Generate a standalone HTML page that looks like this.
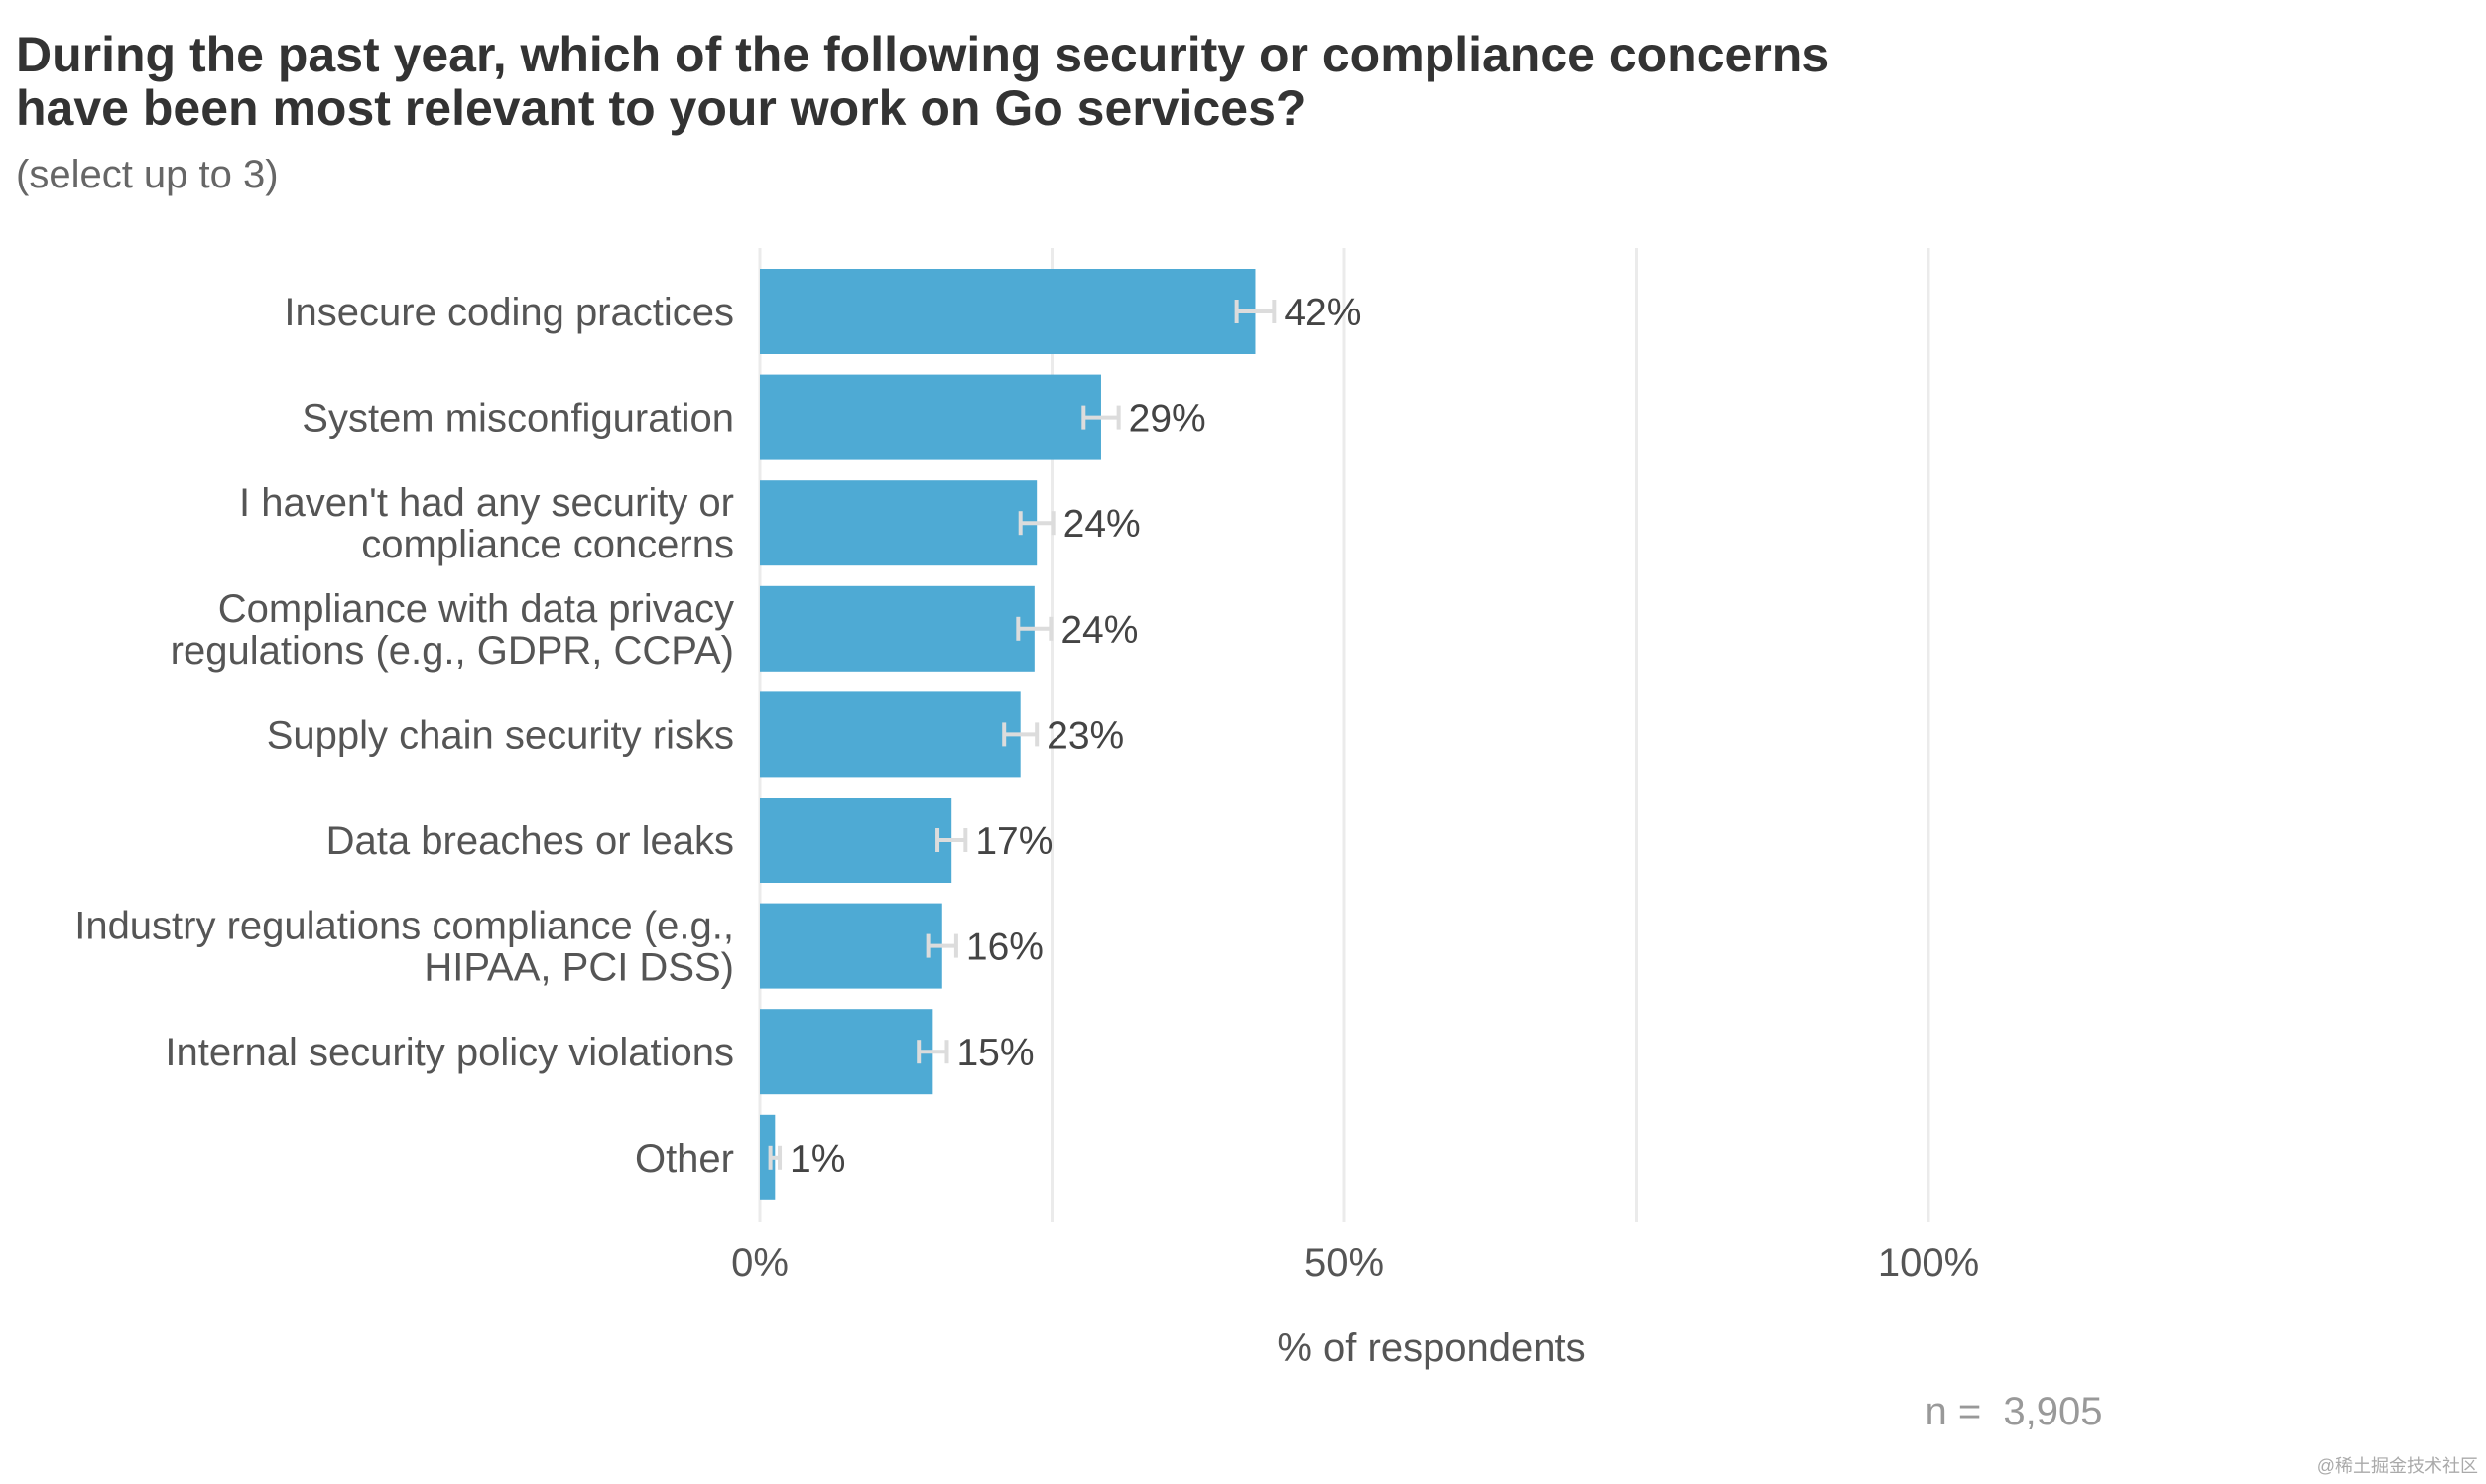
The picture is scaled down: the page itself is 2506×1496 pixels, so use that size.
<!DOCTYPE html>
<html><head><meta charset="utf-8">
<style>
html,body{margin:0;padding:0;background:#fff;}
svg{display:block;font-family:"Liberation Sans",Arial,sans-serif;}
</style></head>
<body>
<svg id="chart" width="2506" height="1496" viewBox="0 0 2506 1496" xmlns="http://www.w3.org/2000/svg">
<rect width="2506" height="1496" fill="#fff"/>
<text x="16" y="72" font-size="50" font-weight="bold" fill="#333">During the past year, which of the following security or compliance concerns</text>
<text x="16" y="126" font-size="50" font-weight="bold" fill="#333">have been most relevant to your work on Go services?</text>
<text x="16" y="189" font-size="40" fill="#666">(select up to 3)</text>
<g id="grid"></g>
<g id="bars"></g>
<g id="ticks"></g>
<text x="1443" y="1372" font-size="40" fill="#555" text-anchor="middle">% of respondents</text>
<text x="2030" y="1436" font-size="40" fill="#999" text-anchor="middle" style="white-space:pre">n =  3,905</text>
<text x="2498" y="1484" font-size="18" fill="#aaa" text-anchor="end" font-family="'Liberation Sans','Noto Sans CJK SC',sans-serif">@稀土掘金技术社区</text>
</svg>
<script>
const categories = [
  ["Insecure coding practices"],
  ["System misconfiguration"],
  ["I haven't had any security or","compliance concerns"],
  ["Compliance with data privacy","regulations (e.g., GDPR, CCPA)"],
  ["Supply chain security risks"],
  ["Data breaches or leaks"],
  ["Industry regulations compliance (e.g.,","HIPAA, PCI DSS)"],
  ["Internal security policy violations"],
  ["Other"]
];
const values = [42.4, 29.2, 23.7, 23.5, 22.3, 16.4, 15.6, 14.8, 1.3];
const valueLabels = ["42%","29%","24%","24%","23%","17%","16%","15%","1%"];
const errors = [1.6, 1.5, 1.4, 1.4, 1.4, 1.2, 1.2, 1.2, 0.4];
const ticks = [0, 25, 50, 75, 100];
const tickLabels = ["0%", "", "50%", "", "100%"];

const NS = "http://www.w3.org/2000/svg";
const X0 = 766, PX = 11.78;
const xScale = v => X0 + v * PX;
const Y0 = 271, STEP = 106.6, BH = 86;
const yScale = i => Y0 + i * STEP;
function mk(tag, attrs, parent){const e=document.createElementNS(NS,tag);for(const k in attrs)e.setAttribute(k,attrs[k]);parent.appendChild(e);return e;}
const grid=document.getElementById('grid'), bars=document.getElementById('bars'), tk=document.getElementById('ticks');
ticks.forEach((t,i)=>{
  const l=mk('line',{x1:xScale(t),x2:xScale(t),y1:250,y2:1232,stroke:'#ebebeb','stroke-width':3},grid);
  
  
  if(tickLabels[i]){
    const tx=mk('text',{x:xScale(t),y:1286,'font-size':40,fill:'#555','text-anchor':'middle'},tk);
    tx.textContent=tickLabels[i];
    
    
  }
});
values.forEach((v,i)=>{
  const y=yScale(i), cy=y+BH/2;
  const r=mk('rect',{x:X0,y:y,width:xScale(v)-X0,height:BH,fill:'#4eaad4'},bars);
  
  
  const e1=xScale(v-errors[i]), e2=xScale(v+errors[i]);
  const eb=mk('g',{stroke:'#dcdcdc','stroke-width':4},bars);
  
  
  mk('line',{x1:e1,x2:e2,y1:cy,y2:cy},eb);
  mk('line',{x1:e1,x2:e1,y1:cy-12,y2:cy+12},eb);
  mk('line',{x1:e2,x2:e2,y1:cy-12,y2:cy+12},eb);
  const vl=mk('text',{x:e2+10,y:cy+14,'font-size':39,fill:'#444'},bars);
  vl.textContent=valueLabels[i];
  
  
  const lines=categories[i];
  lines.forEach((s,j)=>{
    const ly=cy+14+(j-(lines.length-1)/2)*42;
    const t=mk('text',{x:740,y:ly,'font-size':40,fill:'#555','text-anchor':'end'},bars);
    t.textContent=s;
    
    
  });
});
</script>
</body></html>
